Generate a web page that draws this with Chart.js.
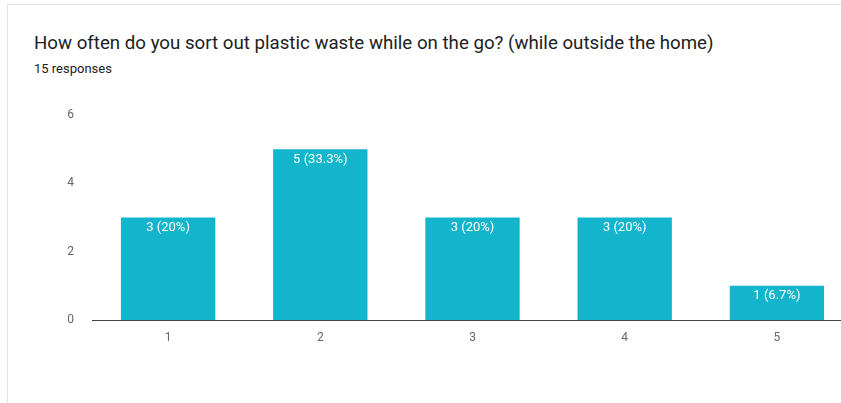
<!DOCTYPE html>
<html>
<head>
<meta charset="utf-8">
<script src="https://cdn.jsdelivr.net/npm/chart.js@4.4.0/dist/chart.umd.min.js"></script>
<style>
  html, body { margin: 0; padding: 0; background: #fff; overflow: hidden; }
  body { width: 841px; height: 403px; position: relative; font-family: Roboto, "Noto Sans", sans-serif; }
  .card {
    position: absolute; left: 7px; top: 4px; width: 900px; height: 500px;
    border-left: 1px solid #e3e3e3; border-top: 1px solid #e3e3e3;
  }
  .title {
    position: absolute; left: 34px; top: 32px; margin: 0;
    font-size: 18.7px; font-weight: 400; color: #202124; white-space: nowrap;
  }
  .subtitle {
    position: absolute; left: 34px; top: 61px; margin: 0;
    font-size: 13px; color: #202124;
  }
  .chart-box { position: absolute; left: 0; top: 90px; width: 853px; height: 270px; }
</style>
</head>
<body>
<div class="card"></div>
<h1 class="title">How often do you sort out plastic waste while on the go? (while outside the home)</h1>
<p class="subtitle">15 responses</p>
<div class="chart-box"><canvas id="responsesChart"></canvas></div>
<script>
const categories = ['1', '2', '3', '4', '5'];
const counts = [3, 5, 3, 3, 1];
const yTicks = [0, 2, 4, 6];

const totalResponses = counts.reduce((a, b) => a + b, 0);

function percentLabel(v) {
  const pct = Math.round(v / totalResponses * 1000) / 10;
  return v + ' (' + pct + '%)';
}

// writes "n (p%)" just inside the top of each bar
const barLabels = {
  id: 'barLabels',
  afterDatasetsDraw(chart) {
    const ctx = chart.ctx;
    const meta = chart.getDatasetMeta(0);
    ctx.save();
    ctx.fillStyle = '#ffffff';
    ctx.font = '13px Roboto, sans-serif';
    ctx.textAlign = 'center';
    ctx.textBaseline = 'middle';
    meta.data.forEach((bar, i) => {
      ctx.fillText(percentLabel(counts[i]), bar.x, bar.y + 10);
    });
    ctx.restore();
  }
};

new Chart(document.getElementById('responsesChart'), {
  type: 'bar',
  data: {
    labels: categories,
    datasets: [{
      data: counts,
      backgroundColor: '#12b5cb',
      borderWidth: 0,
      categoryPercentage: 1,
      barPercentage: 0.62
    }]
  },
  options: {
    responsive: true,
    maintainAspectRatio: false,
    animation: false,
    layout: { padding: { top: 3, right: 0, bottom: 0, left: 0 } },
    plugins: {
      legend: { display: false },
      tooltip: { enabled: false }
    },
    scales: {
      x: {
        grid: { display: false, drawTicks: false },
        border: { display: true, color: '#444', width: 1 },
        ticks: { color: '#666', font: { family: 'Roboto', size: 12 }, padding: 11 },
        afterFit(scale) { scale.height = 40; }
      },
      y: {
        min: 0,
        max: 6,
        afterBuildTicks(scale) { scale.ticks = yTicks.map(v => ({ value: v })); },
        grid: { display: false, drawTicks: false },
        border: { display: false },
        ticks: { color: '#666', font: { family: 'Roboto', size: 12 }, padding: 18 },
        afterFit(scale) { scale.width = 92; }
      }
    }
  },
  plugins: [barLabels]
});
</script>
</body>
</html>
